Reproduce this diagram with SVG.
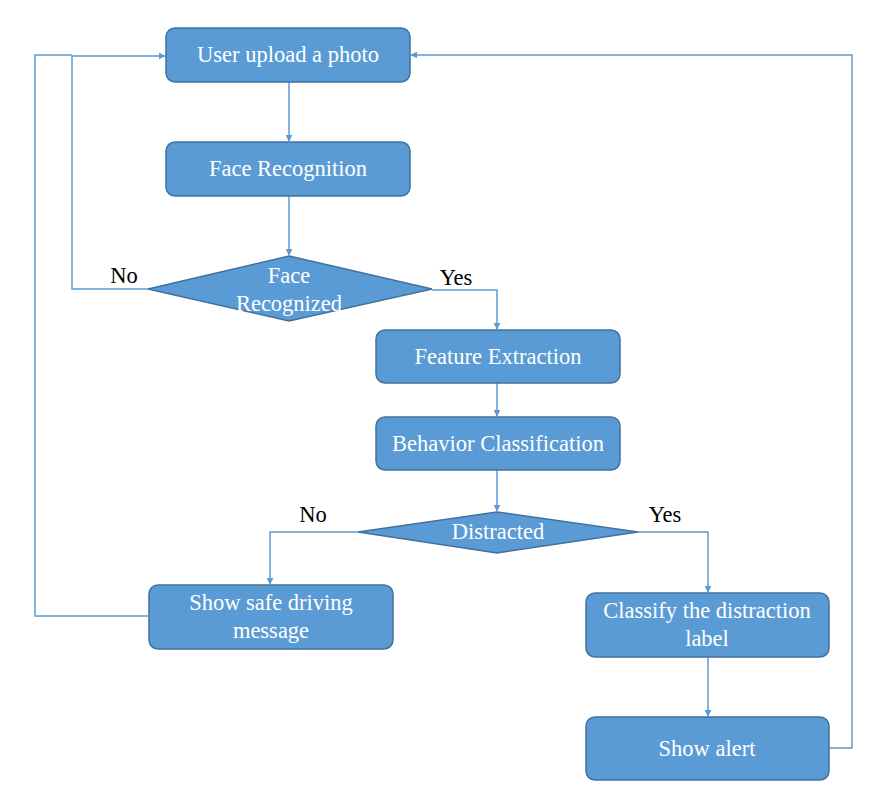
<svg xmlns="http://www.w3.org/2000/svg" width="884" height="806" viewBox="0 0 884 806">
<defs>
<style>
.box{fill:#5B9BD5;stroke:#41719C;stroke-width:1.5}
.t{font-family:"Liberation Serif","Times New Roman",serif;font-size:22.5px;fill:#fff;text-anchor:middle}
.lbl{font-family:"Liberation Serif","Times New Roman",serif;font-size:22.5px;fill:#000;text-anchor:middle}
.c{fill:none;stroke:#5B9BD5;stroke-width:1.5}
</style>
<marker id="ah" viewBox="0 0 10 10" refX="9" refY="5" markerWidth="7" markerHeight="7" orient="auto" markerUnits="userSpaceOnUse"><path d="M0,0 L10,5 L0,10 z" fill="#5B9BD5"/></marker>
</defs>
<rect width="884" height="806" fill="#fff"/>
<g id="connectors">
<path class="c" d="M289,82 V141" marker-end="url(#ah)"/>
<path class="c" d="M289,196 V255" marker-end="url(#ah)"/>
<path class="c" d="M148,289 H72 V56 H165" marker-end="url(#ah)"/>
<path class="c" d="M432,290 H497 V329" marker-end="url(#ah)"/>
<path class="c" d="M497,383 V416" marker-end="url(#ah)"/>
<path class="c" d="M497,470 V511" marker-end="url(#ah)"/>
<path class="c" d="M358,532 H270 V584" marker-end="url(#ah)"/>
<path class="c" d="M638,532 H708 V592" marker-end="url(#ah)"/>
<path class="c" d="M708,657 V716" marker-end="url(#ah)"/>
<path class="c" d="M149,616 H35 V55 H72"/>
<path class="c" d="M829,748 H852 V55 H411" marker-end="url(#ah)"/>
<text class="lbl" x="124" y="283">No</text>
<text class="lbl" x="456" y="285">Yes</text>
<text class="lbl" x="313" y="522">No</text>
<text class="lbl" x="665" y="522">Yes</text>
</g>
<g id="upload">
<rect class="box" x="166" y="28" width="244" height="54" rx="9"/>
<text class="t" x="288" y="62">User upload a photo</text>
</g>
<g id="face-recognition">
<rect class="box" x="166" y="142" width="244" height="54" rx="9"/>
<text class="t" x="288" y="176">Face Recognition</text>
</g>
<g id="face-recognized">
<polygon class="box" points="289,256 432,289 289,321 148,289"/>
<text class="t" x="289" y="283">Face</text>
<text class="t" x="289" y="311">Recognized</text>
</g>
<g id="feature-extraction">
<rect class="box" x="376" y="330" width="244" height="53" rx="9"/>
<text class="t" x="498" y="364">Feature Extraction</text>
</g>
<g id="behavior-classification">
<rect class="box" x="376" y="417" width="244" height="53" rx="9"/>
<text class="t" x="498" y="451">Behavior Classification</text>
</g>
<g id="distracted">
<polygon class="box" points="497,512 638,532 497,553 358,532"/>
<text class="t" x="498" y="539">Distracted</text>
</g>
<g id="safe-driving">
<rect class="box" x="149" y="585" width="244" height="64" rx="9"/>
<text class="t" x="271" y="610">Show safe driving</text>
<text class="t" x="271" y="638">message</text>
</g>
<g id="classify-label">
<rect class="box" x="586" y="593" width="243" height="64" rx="9"/>
<text class="t" x="707" y="618">Classify the distraction</text>
<text class="t" x="707" y="646">label</text>
</g>
<g id="show-alert">
<rect class="box" x="586" y="717" width="243" height="63" rx="9"/>
<text class="t" x="707" y="756">Show alert</text>
</g>
</svg>
